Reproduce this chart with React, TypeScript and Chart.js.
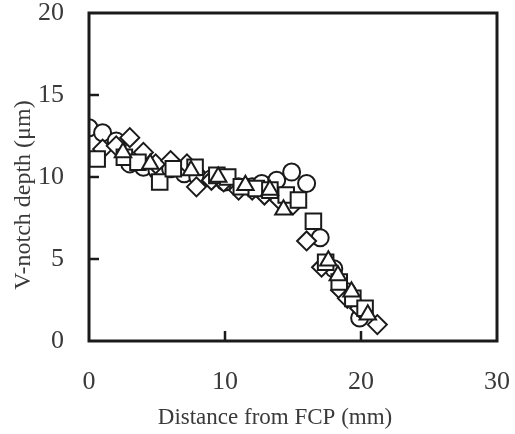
import React, { useEffect, useRef } from "react";
import { Chart, registerables } from "chart.js";

Chart.register(...registerables);

const xTicks = [0, 10, 20, 30];
const yTicks = [0, 5, 10, 15, 20];
const xTitle = "Distance from FCP (mm)";
const yTitle = "V-notch depth (\u03bcm)";

const circleX = [0, 1, 2, 3, 4, 5, 6, 7, 8, 9, 10, 11, 12, 12.7, 13.8, 14.9, 16, 17, 18, 19, 19.9];
const circleY = [13.0, 12.7, 12.2, 10.8, 10.6, 10.4, 10.5, 10.2, 10.0, 9.9, 9.7, 9.4, 9.4, 9.6, 9.8, 10.3, 9.6, 6.3, 4.4, 3.0, 1.4];

const squareX = [0.6, 2.6, 3.6, 5.2, 6.2, 7.8, 9.4, 10.2, 11.2, 12.3, 13.3, 14.5, 15.4, 16.5, 17.4, 18.4, 19.4, 20.3];
const squareY = [11.1, 11.2, 10.9, 9.7, 10.5, 10.6, 10.1, 10.0, 9.4, 9.3, 9.2, 8.9, 8.6, 7.3, 4.8, 3.6, 2.6, 2.0];

const diamondX = [1, 2, 3, 4, 4.9, 6, 7.2, 7.9, 9, 9.9, 11, 12, 12.9, 14, 15, 16, 17.1, 18.5, 19, 19.9, 21.2];
const diamondY = [11.7, 11.9, 12.4, 11.5, 10.8, 11.0, 10.8, 9.4, 9.8, 9.7, 9.2, 9.2, 8.9, 8.6, 8.3, 6.1, 4.5, 3.1, 2.6, 2.0, 1.0];

const triangleX = [2.5, 4.5, 7.5, 9.5, 11.5, 13.3, 14.3, 17.6, 18.3, 19.3, 20.5];
const triangleY = [11.5, 10.8, 10.4, 10.0, 9.5, 9.2, 8.0, 4.9, 4.0, 3.0, 1.6];

const toPts = (xs: number[], ys: number[]) => xs.map((x, i) => ({ x, y: ys[i] }));

const FONT = "'Liberation Serif', 'Times New Roman', serif";
const TEXT = "#3a3a3a";

const framePlugin = {
  id: "frame",
  afterDatasetsDraw(chart: any) {
    const { ctx, chartArea, scales } = chart;
    const { left, right, top, bottom } = chartArea;
    ctx.save();
    ctx.strokeStyle = "#1a1a1a";
    ctx.lineWidth = 3;
    ctx.strokeRect(left, top, right - left, bottom - top);
    ctx.lineWidth = 2.5;
    [5, 10, 15].forEach((v) => {
      const y = scales.y.getPixelForValue(v);
      ctx.beginPath();
      ctx.moveTo(left, y);
      ctx.lineTo(left + 10, y);
      ctx.stroke();
    });
    [10, 20].forEach((v) => {
      const x = scales.x.getPixelForValue(v);
      ctx.beginPath();
      ctx.moveTo(x, bottom);
      ctx.lineTo(x, bottom - 10);
      ctx.stroke();
    });
    ctx.fillStyle = TEXT;
    ctx.font = `23px ${FONT}`;
    ctx.textAlign = "center";
    ctx.textBaseline = "alphabetic";
    ctx.fillText(xTitle, 275, 424);
    ctx.translate(30, 195);
    ctx.rotate(-Math.PI / 2);
    ctx.font = `24px ${FONT}`;
    ctx.fillText(yTitle, 0, 0);
    ctx.restore();
  },
};

export default function App() {
  const ref = useRef<HTMLCanvasElement | null>(null);
  useEffect(() => {
    document.body.style.margin = "0";
    const common = {
      showLine: false,
      borderColor: "#1a1a1a",
      backgroundColor: "#ffffff",
      borderWidth: 2,
    };
    const chart = new Chart(ref.current as HTMLCanvasElement, {
      type: "scatter",
      data: {
        datasets: [
          { ...common, label: "triangle", data: toPts(triangleX, triangleY), pointStyle: "triangle", pointRadius: 9.5 },
          { ...common, label: "square", data: toPts(squareX, squareY), pointStyle: "rect", pointRadius: 11 },
          { ...common, label: "diamond", data: toPts(diamondX, diamondY), pointStyle: "rectRot", pointRadius: 9.5 },
          { ...common, label: "circle", data: toPts(circleX, circleY), pointStyle: "circle", pointRadius: 8.5 },
        ],
      },
      options: {
        animation: false,
        responsive: false,
        maintainAspectRatio: false,
        layout: { padding: { left: 0, top: 13, right: 18, bottom: 0 } },
        plugins: { legend: { display: false }, tooltip: { enabled: false } },
        scales: {
          x: {
            type: "linear",
            min: 0,
            max: 30,
            afterBuildTicks: (s: any) => {
              s.ticks = xTicks.map((v) => ({ value: v }));
            },
            afterFit: (s: any) => {
              s.height = 93;
              s.paddingLeft = 0;
              s.paddingRight = 0;
            },
            grid: { display: false, drawTicks: false },
            border: { display: false },
            ticks: { color: TEXT, font: { family: FONT, size: 26 }, padding: 26, maxRotation: 0 },
          },
          y: {
            type: "linear",
            min: 0,
            max: 20,
            afterBuildTicks: (s: any) => {
              s.ticks = yTicks.map((v) => ({ value: v }));
            },
            afterFit: (s: any) => {
              s.width = 89;
              s.paddingTop = 0;
              s.paddingBottom = 0;
            },
            grid: { display: false, drawTicks: false },
            border: { display: false },
            ticks: { color: TEXT, font: { family: FONT, size: 26 }, padding: 25 },
          },
        },
      },
      plugins: [framePlugin],
    });
    return () => chart.destroy();
  }, []);
  return (
    <div style={{ width: 515, height: 434 }}>
      <canvas ref={ref} width={515} height={434} style={{ width: 515, height: 434, display: "block" }} />
    </div>
  );
}
